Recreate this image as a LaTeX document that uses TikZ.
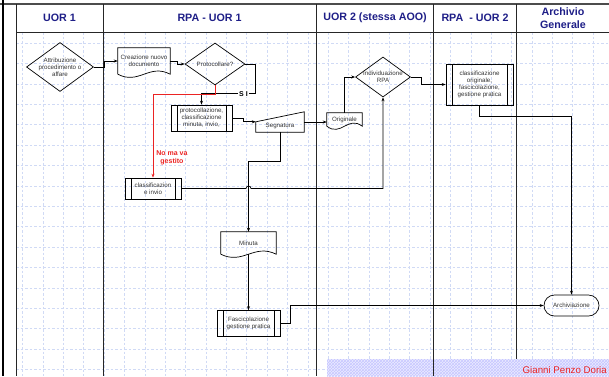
\documentclass[tikz,border=0pt]{standalone}
\usepackage{fontspec}
\setmainfont{Liberation Sans}
\usepackage{xcolor}
\usepackage{tikz}
\usetikzlibrary{positioning, arrows.meta, shapes.geometric, shapes.misc, calc, patterns}

\definecolor{hdrblue}{RGB}{30,30,135}
\definecolor{gridblue}{RGB}{208,218,245}
\definecolor{notered}{RGB}{235,35,35}

% outline of a document shape (wavy bottom) round a named node
\newcommand{\docoutline}[1]{%
  \draw[line width=0.7pt] (#1.south west) -- (#1.north west) -- (#1.north east) -- (#1.south east)
    .. controls ($(#1.south east)!0.4!(#1.south west)+(0,11pt)$) and ($(#1.south west)!0.4!(#1.south east)+(0,-11pt)$) .. (#1.south west);}
% outline of a manual input shape round a named node
\newcommand{\maninoutline}[1]{%
  \draw[line width=0.7pt] (#1.south west) -- ([yshift=-2pt]#1.north west) -- ([yshift=8pt]#1.north east) -- (#1.south east) -- cycle;}

\begin{document}
\begin{tikzpicture}[x=1pt, y=-1pt,
  lane/.style={line width=1pt, draw=black!85},
  gridln/.style={draw=gridblue, line width=0.45pt, dash pattern=on 2.5pt off 2pt},
  hdr/.style={font=\fontsize{10.7}{13}\selectfont\bfseries, text=hdrblue, align=center},
  base/.style={font=\fontsize{6.2}{6.9}\selectfont, text=black!80, align=center, inner sep=0pt},
  dec/.style={base, diamond, draw, line width=0.7pt},
  proc/.style={base, rectangle, draw, line width=0.7pt,
    path picture={\draw[line width=0.7pt] ([xshift=6pt]path picture bounding box.north west) -- ([xshift=6pt]path picture bounding box.south west);
      \draw[line width=0.7pt] ([xshift=-6pt]path picture bounding box.north east) -- ([xshift=-6pt]path picture bounding box.south east);}},
  docu/.style={base, rectangle},
  manin/.style={base, rectangle},
  term/.style={base, rounded rectangle, draw, line width=0.7pt},
  arr/.style={-{Stealth[length=4pt, width=3pt]}, line width=0.7pt},
  note/.style={font=\fontsize{7}{8}\selectfont\bfseries, text=notered, align=center, inner sep=0pt},
  sil/.style={font=\fontsize{7}{8}\selectfont\bfseries, fill=white, inner sep=0.8pt}
]
  \useasboundingbox (0,0) rectangle (609,376);

  % background grid
  \foreach \gx in {0,...,28}
    \draw[gridln] (22.6+20.37*\gx,32) -- (22.6+20.37*\gx,376);
  \foreach \gy in {0,...,16}
    \draw[gridln] (16,43+20.4*\gy) -- (609,43+20.4*\gy);

  % footer band
  \fill[blue!8] (327,359) rectangle (609,376);
  \fill[pattern=crosshatch, pattern color=blue!22] (327,359) rectangle (609,376);

  % frame and lanes
  \draw[line width=1.6pt, draw=black!70] (0,4) -- (609,4);
  \draw[line width=2pt] (3,0) -- (3,376);
  \draw[lane] (16,32) -- (609,32);
  \foreach \lx in {16,103.3,316.5,433.5}
    \draw[lane] (\lx,4) -- (\lx,376);
  \draw[lane] (516.5,4) -- (516.5,359);

  \node[hdr] (h1) at (59.5,18) {UOR 1};
  \node[hdr] (h2) at (209.5,18) {RPA - UOR 1};
  \node[hdr] (h3) at (375,18) {UOR 2 (stessa AOO)};
  \node[hdr] (h4) at (475,18) {RPA\ \ - UOR 2};
  \node[hdr] (h5) at (563,18) {Archivio\\Generale};

  % flow
  \node[dec, minimum width=67, minimum height=49, label={[base]center:Attribuzione\\procedimento o\\affare}] (attr) at (60,67) {};
  \node[docu, minimum width=52, minimum height=26] (crea) at (144,61) {Creazione nuovo\\documento};
  \node[dec, minimum width=60, minimum height=42, label={[base]center:Protocollare?}] (prot) at (215,64) {};
  \node[proc, minimum width=61, minimum height=26] (protcl) at (201.5,118) {protocollazione,\\classificazione\\minuta, invio,};
  \node[manin, minimum width=48, minimum height=12] (segn) at (280,126) {Segnatura};
  \node[docu, minimum width=35, minimum height=13] (orig) at (344.5,119.5) {Originale};
  \node[dec, minimum width=55, minimum height=40, label={[base]center:Individuazione\\RPA}] (indiv) at (383,77) {};
  \node[proc, minimum width=67, minimum height=41] (clorig) at (479.5,84.5) {classificazione\\originale,\\fascicolazione,\\gestione pratica};
  \node[proc, minimum width=56, minimum height=21] (clinv) at (153,188.5) {classificazion\\e invio};
  \node[docu, minimum width=55, minimum height=22] (minuta) at (248.5,243) {Minuta};
  \node[proc, minimum width=63, minimum height=26, below=56pt of minuta, on grid] (fasc) {Fascicolazione\\gestione pratica};
  \node[term, minimum width=55, minimum height=21] (arch) at (571.5,305.5) {Archiviazione};

  \docoutline{crea}
  \docoutline{orig}
  \docoutline{minuta}
  \maninoutline{segn}

  \draw[arr] (attr.east) -- ++(10,0) |- (crea.west);
  \draw[arr] (crea.east) -- ++(7,0) |- (prot.west);
  \draw[arr] (prot.east) -- ++(10,0) |- node[pos=0.61, sil] {S I} ([yshift=11pt]protcl.north) -- (protcl.north);
  \draw[arr, draw=notered] (prot.south) -- ++(0,9) -| node[note, pos=0.88, right=3pt] {No ma va\\gestito} (clinv.north);
  \draw[arr] (protcl.east) -- ++(11,0) |- ([yshift=-2pt]segn.north west);
  \draw[arr] ([yshift=4pt]segn.east) -- ([yshift=4pt]segn.east -| orig.west);
  \draw[arr] (orig.north) |- (indiv.west);
  \draw[arr] (indiv.east) -- ++(10,0) |- (clorig.west);
  \draw[arr] (segn.south) -- ++(0,29) -| (minuta.north);
  \draw[arr] (clinv.east) -- ($(minuta.north |- clinv.east)+(-2.5pt,0)$) arc[start angle=180, end angle=0, radius=2.5pt] -| (indiv.south);
  \draw[arr] (minuta) -- (fasc);
  \draw[arr] (fasc.east) -- ++(10,0) |- (arch.west);
  \draw[arr] (clorig.south) -- ++(0,11) -| (arch.north);

  \node[font=\fontsize{9.7}{10}\selectfont, text=notered, anchor=base east, inner sep=0pt] (autore) at (607,373.5) {Gianni Penzo Doria};
\end{tikzpicture}
\end{document}
